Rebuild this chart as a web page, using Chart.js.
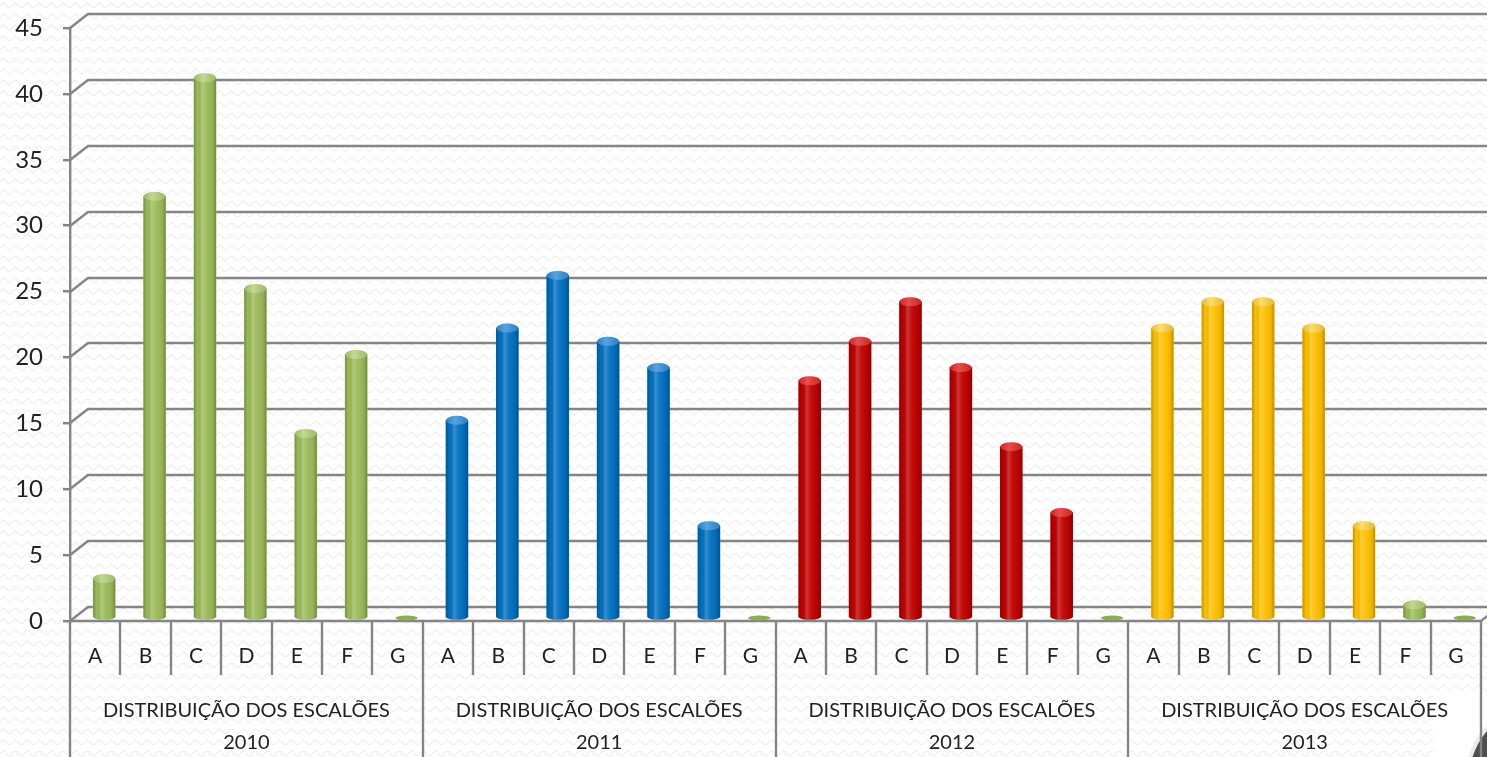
<!DOCTYPE html>
<html>
<head>
<meta charset="utf-8">
<script src="https://cdn.jsdelivr.net/npm/chart.js@4/dist/chart.umd.min.js"></script>
<style>
  html, body { margin: 0; padding: 0; background: #fff; }
  #wrap { width: 1487px; height: 757px; position: relative; }
</style>
</head>
<body>
<div id="wrap"><canvas id="c" width="1487" height="757"></canvas></div>
<script>
// Grades (escalões) and the years they were counted in
const grades = ['A', 'B', 'C', 'D', 'E', 'F', 'G'];
const years = ['2010', '2011', '2012', '2013'];
const groupTitle = 'DISTRIBUIÇÃO DOS ESCALÕES';

// Number of people in each grade, per year
const values2010 = [3, 32, 41, 25, 14, 20, 0];
const values2011 = [15, 22, 26, 21, 19, 7, 0];
const values2012 = [18, 21, 24, 19, 13, 8, 0];
const values2013 = [22, 24, 24, 22, 7, 1, 0];

// Value axis
const yMin = 0;
const yMax = 45;
const yStep = 5;

// Colours per year, plus the lighter top of each cylinder
const yearColors = ['#9BBB59', '#0070C0', '#C00000', '#FFC000'];
const yearCapColors = ['#B6D27E', '#3B92DA', '#E23030', '#FFD750'];
// points that keep the default green fill: [yearIndex, gradeIndex]
const greenPoints = [[1, 6], [2, 6], [3, 5], [3, 6]];

const yearValues = [values2010, values2011, values2012, values2013];
const categoryLabels = years.flatMap(() => grades);
const groupLabels = years.flatMap(yr => grades.map((g, i) => i === 3 ? [groupTitle, yr] : ''));
const allValues = yearValues.flat();

const isGreen = (yi, gi) => greenPoints.some(p => p[0] === yi && p[1] === gi);
const barColors = years.flatMap((yr, yi) => grades.map((g, gi) => isGreen(yi, gi) ? yearColors[0] : yearColors[yi]));
const capColors = years.flatMap((yr, yi) => grades.map((g, gi) => isGreen(yi, gi) ? yearCapColors[0] : yearCapColors[yi]));

// 3D offsets: back wall and bar depth
const WALL_DX = 18, WALL_DY = -14;
const BAR_DX = 9, BAR_DY = -3;
const LINE_COLOR = '#858585';
const TEXT_COLOR = '#222222';
const FONT = 'Lato';

function wavePattern(ctx) {
  const p = document.createElement('canvas');
  p.width = 12; p.height = 11;
  const g = p.getContext('2d');
  g.strokeStyle = 'rgba(0,0,0,0.07)';
  g.lineWidth = 1.2;
  g.beginPath();
  g.moveTo(0, 6);
  g.quadraticCurveTo(3, 1, 6, 5);
  g.quadraticCurveTo(9, 10, 12, 6);
  g.stroke();
  return ctx.createPattern(p, 'repeat');
}

const framePlugin = {
  id: 'frame3d',
  beforeDraw(chart) {
    const { ctx, width, height } = chart;
    ctx.save();
    ctx.fillStyle = '#fff';
    ctx.fillRect(0, 0, width, height);
    ctx.fillStyle = wavePattern(ctx);
    ctx.fillRect(0, 0, width, height);
    // plain corner with the round badge
    ctx.fillStyle = '#fff';
    ctx.fillRect(1433, 695, width - 1433, height - 695);
    ctx.beginPath();
    ctx.arc(1545, 780, 80, 0, Math.PI * 2);
    ctx.fillStyle = '#ececec';
    ctx.fill();
    ctx.beginPath();
    ctx.arc(1545, 780, 76, 0, Math.PI * 2);
    ctx.fillStyle = '#4f4f4f';
    ctx.fill();
    ctx.restore();
  },
  beforeDatasetsDraw(chart) {
    const { ctx, chartArea: a, scales: { x, y } } = chart;
    ctx.save();
    ctx.strokeStyle = LINE_COLOR;
    ctx.lineWidth = 2.4;
    // back wall gridlines with their side-wall diagonals
    y.ticks.forEach(t => {
      const py = Math.round(y.getPixelForValue(t.value));
      ctx.beginPath();
      ctx.moveTo(a.left, py);
      ctx.lineTo(a.left + WALL_DX, py + WALL_DY);
      ctx.lineTo(chart.width, py + WALL_DY);
      ctx.stroke();
    });
    // front edge of the floor
    ctx.beginPath();
    ctx.moveTo(a.left, a.bottom);
    ctx.lineTo(a.right, a.bottom);
    ctx.lineTo(a.right + WALL_DX, a.bottom + WALL_DY);
    ctx.stroke();
    // category table under the floor
    const n = categoryLabels.length;
    for (let i = 0; i <= n; i++) {
      const px = Math.round(x.getPixelForValue(i - 0.5));
      const bottom = (i % grades.length === 0) ? chart.height : a.bottom + 54;
      ctx.beginPath();
      ctx.moveTo(px, a.bottom);
      ctx.lineTo(px, bottom);
      ctx.stroke();
    }
    ctx.restore();
    // bars stand in the middle of the floor depth
    ctx.save();
    ctx.translate(BAR_DX, BAR_DY);
  },
  afterDatasetsDraw(chart) {
    const { ctx } = chart;
    const meta = chart.getDatasetMeta(0);
    meta.data.forEach((bar, i) => {
      const { x, y, base, width } = bar.getProps(['x', 'y', 'base', 'width'], true);
      const l = x - width / 2;
      const r = x + width / 2;
      const h = base - y;
      const shade = ctx.createLinearGradient(l, 0, r, 0);
      shade.addColorStop(0, 'rgba(0,0,0,0.22)');
      shade.addColorStop(0.16, 'rgba(0,0,0,0.0)');
      shade.addColorStop(0.36, 'rgba(255,255,255,0.22)');
      shade.addColorStop(0.56, 'rgba(255,255,255,0.05)');
      shade.addColorStop(0.85, 'rgba(0,0,0,0.06)');
      shade.addColorStop(1, 'rgba(0,0,0,0.26)');
      if (h > 0.5) {
        // rounded foot
        ctx.beginPath();
        ctx.ellipse(x, base, width / 2, 3, 0, 0, Math.PI);
        ctx.fillStyle = barColors[i];
        ctx.fill();
        ctx.fillStyle = shade;
        ctx.fill();
        // body
        ctx.fillStyle = shade;
        ctx.fillRect(l, y, width, h);
        // top of the cylinder
        ctx.beginPath();
        ctx.ellipse(x, y, width / 2, 4.5, 0, 0, Math.PI * 2);
        ctx.fillStyle = capColors[i];
        ctx.fill();
        const capShade = ctx.createLinearGradient(l, 0, r, 0);
        capShade.addColorStop(0, 'rgba(0,0,0,0.12)');
        capShade.addColorStop(0.4, 'rgba(255,255,255,0.15)');
        capShade.addColorStop(1, 'rgba(0,0,0,0.12)');
        ctx.fillStyle = capShade;
        ctx.fill();
      } else {
        // an empty grade shows as a flat disc on the floor
        ctx.beginPath();
        ctx.ellipse(x, base, width / 2, 2.5, 0, 0, Math.PI * 2);
        ctx.fillStyle = barColors[i];
        ctx.fill();
        ctx.fillStyle = 'rgba(0,0,0,0.08)';
        ctx.fill();
      }
    });
    ctx.restore();
  }
};

new Chart(document.getElementById('c'), {
  type: 'bar',
  data: {
    labels: categoryLabels,
    datasets: [{
      data: allValues,
      backgroundColor: barColors,
      borderWidth: 0,
      barThickness: 22
    }]
  },
  options: {
    responsive: false,
    animation: false,
    devicePixelRatio: 1,
    layout: { padding: { top: 28, right: 6, left: 0, bottom: 0 } },
    plugins: { legend: { display: false }, tooltip: { enabled: false } },
    scales: {
      x: {
        type: 'category',
        position: 'bottom',
        weight: 0,
        offset: true,
        grid: { display: false, drawTicks: false },
        border: { display: false },
        ticks: {
          autoSkip: false, maxRotation: 0, minRotation: 0,
          padding: 23,
          color: TEXT_COLOR,
          font: { family: FONT, size: 21 }
        },
        afterFit: s => { s.height = 54; }
      },
      x2: {
        type: 'category',
        position: 'bottom',
        weight: 1,
        labels: groupLabels,
        offset: true,
        grid: { display: false, drawTicks: false },
        border: { display: false },
        ticks: {
          autoSkip: false, maxRotation: 0, minRotation: 0,
          padding: 20,
          color: TEXT_COLOR,
          font: { family: FONT, size: 20, lineHeight: 1.6 }
        },
        afterFit: s => { s.height = 82; }
      },
      y: {
        min: yMin,
        max: yMax,
        ticks: {
          stepSize: yStep,
          padding: 20,
          color: TEXT_COLOR,
          font: { family: FONT, size: 24 }
        },
        grid: { drawOnChartArea: false, drawTicks: true, tickLength: 7, color: LINE_COLOR, lineWidth: 2.4 },
        border: { color: LINE_COLOR, width: 2.4 },
        afterFit: s => { s.width = 70; s.paddingTop = 12; }
      }
    }
  },
  plugins: [framePlugin]
});
</script>
</body>
</html>
